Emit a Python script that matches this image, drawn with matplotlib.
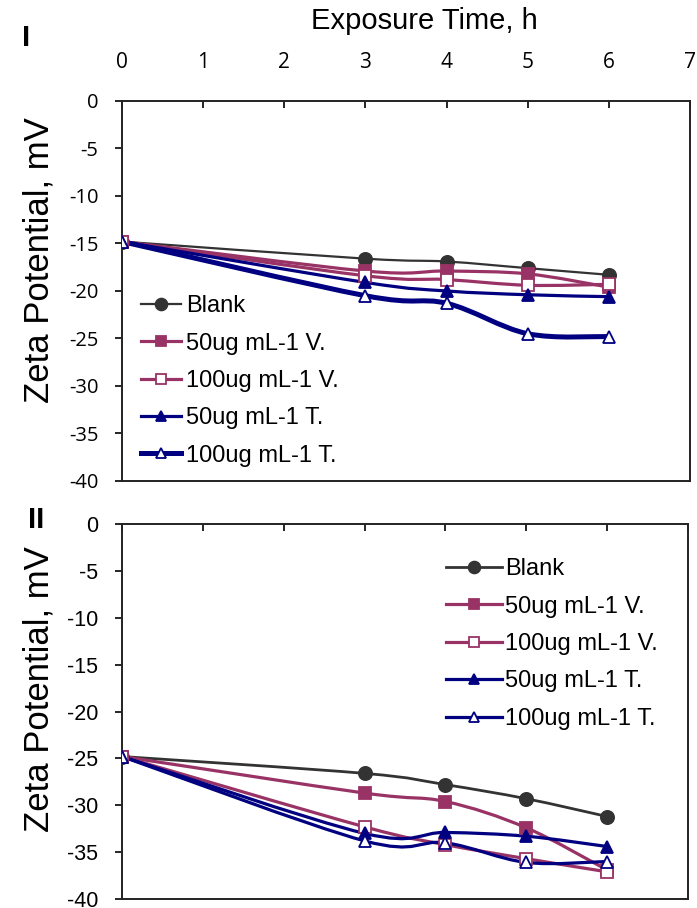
import numpy as np
import matplotlib.pyplot as plt
from matplotlib.path import Path
from matplotlib.patches import PathPatch
from matplotlib.lines import Line2D

plt.rcParams["axes.unicode_minus"] = False

# Datos
tiempo = [0, 3, 4, 5, 6]
series = ["Blank", "50ug mL-1 V.", "100ug mL-1 V.", "50ug mL-1 T.", "100ug mL-1 T."]

# Panel I
blank_1 = [-14.8, -16.6, -16.9, -17.6, -18.3]
v50_1 = [-14.8, -17.9, -17.9, -18.2, -19.6]
v100_1 = [-14.8, -18.4, -18.8, -19.4, -19.3]
t50_1 = [-14.8, -19.1, -20.0, -20.4, -20.6]
t100_1 = [-14.8, -20.5, -21.3, -24.5, -24.8]

# Panel II
blank_2 = [-24.8, -26.6, -27.8, -29.3, -31.2]
v50_2 = [-24.8, -28.7, -29.6, -32.4, -36.9]
v100_2 = [-24.8, -32.3, -34.2, -35.7, -37.1]
t50_2 = [-24.8, -33.0, -32.9, -33.3, -34.4]
t100_2 = [-24.8, -33.8, -34.0, -36.1, -36.0]

colores = ["#333333", "#993366", "#993366", "#000080", "#000080"]
marcadores = ["o", "s", "s", "^", "^"]
rellenos = ["#333333", "#993366", "white", "#000080", "white"]
tamanos = [9.5, 8.5, 8.5, 8.5, 8.5]

fuente = "Liberation Sans"


# Curva suave tipo Excel con Bezier
def curva_suave(x, y):
    x = np.asarray(x, float)
    y = np.asarray(y, float)
    n = len(x)
    verts = [(x[0], y[0])]
    codes = [Path.MOVETO]
    for i in range(n - 1):
        x0, y0 = (x[i - 1], y[i - 1]) if i > 0 else (x[i], y[i])
        x3, y3 = (x[i + 2], y[i + 2]) if i + 2 < n else (x[i + 1], y[i + 1])
        c1 = (x[i] + (x[i + 1] - x0) / 6, y[i] + (y[i + 1] - y0) / 6)
        c2 = (x[i + 1] - (x3 - x[i]) / 6, y[i + 1] - (y3 - y[i]) / 6)
        verts += [c1, c2, (x[i + 1], y[i + 1])]
        codes += [Path.CURVE4] * 3
    return Path(verts, codes)


def dibujar(ax, datos, anchos):
    handles = []
    for k, y in enumerate(datos):
        ax.add_patch(PathPatch(curva_suave(tiempo, y), facecolor="none",
                               edgecolor=colores[k], lw=anchos[k], zorder=2 + k * 0.1))
        ax.plot(tiempo, y, linestyle="none", marker=marcadores[k], ms=tamanos[k],
                mfc=rellenos[k], mec=colores[k], mew=1.3, zorder=3 + k * 0.1)
        handles.append(Line2D([], [], color=colores[k], lw=anchos[k], marker=marcadores[k],
                              ms=tamanos[k] - 1, mfc=rellenos[k], mec=colores[k], mew=1.3))
    return handles


fig = plt.figure(figsize=(6.97, 9.08), dpi=100)
ax1 = fig.add_axes([0.175, 0.4703, 0.815, 0.4185])
ax2 = fig.add_axes([0.175, 0.0099, 0.812, 0.413])

h1 = dibujar(ax1, [blank_1, v50_1, v100_1, t50_1, t100_1], [1.6, 2.3, 2.3, 2.3, 3.6])
h2 = dibujar(ax2, [blank_2, v50_2, v100_2, t50_2, t100_2], [2.0, 2.3, 2.3, 2.3, 2.3])

for ax in (ax1, ax2):
    ax.set_xlim(0, 7)
    ax.set_ylim(-40, 0)
    ax.set_yticks(range(-40, 1, 5))
    ax.set_xticks(range(0, 8))
    for s in ax.spines.values():
        s.set_linewidth(1.4)
        s.set_color("#222222")
    ax.tick_params(axis="y", direction="out", length=5, width=1.2, pad=12)
    ax.tick_params(axis="x", direction="in", length=5, width=1.2, top=True, bottom=False,
                   labeltop=True, labelbottom=False)
    ax.set_ylabel("Zeta Potential, mV", fontsize=25, family=fuente)

ax1.yaxis.set_label_coords(-0.117, 0.58)
ax2.yaxis.set_label_coords(-0.117, 0.56)

ax1.tick_params(axis="x", pad=20, labelsize=15)
ax1.tick_params(axis="y", labelsize=14.5)
ax2.tick_params(axis="y", labelsize=15.5)
for lab in ax1.get_xticklabels() + ax1.get_yticklabels():
    lab.set_family("Open Sans")
for lab in ax2.get_yticklabels():
    lab.set_family(fuente)
ax2.tick_params(axis="x", labeltop=False)

ax1.xaxis.set_label_position("top")
ax1.set_xlabel("Exposure Time, h", fontsize=21, family=fuente)
ax1.xaxis.set_label_coords(0.532, 1.19)

ax1.legend(h1, series, loc="lower left", bbox_to_anchor=(0.0, -0.012), frameon=False,
           prop={"family": fuente, "size": 17}, handlelength=1.7, handletextpad=0.2,
           labelspacing=0.65, borderaxespad=0.4)
ax2.legend(h2, series, loc="upper right", bbox_to_anchor=(0.985, 0.965), frameon=False,
           prop={"family": fuente, "size": 17}, handlelength=2.35, handletextpad=0.15,
           labelspacing=0.65)

fig.text(0.032, 0.958, "I", fontsize=21, fontweight="bold", family=fuente, va="center")
fig.text(0.052, 0.427, "II", fontsize=21, fontweight="bold", family=fuente, va="center", ha="center")

fig.savefig("out.png", dpi=100)
